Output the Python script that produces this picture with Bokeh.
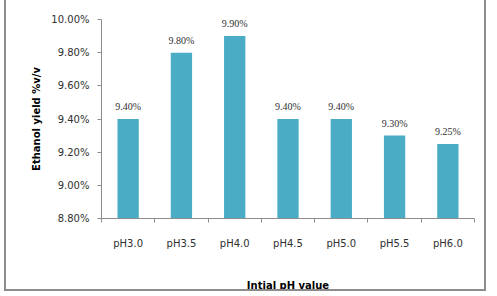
from bokeh.plotting import figure
from bokeh.models import (Range1d, LinearAxis, FixedTicker, PrintfTickFormatter,
                          ColumnDataSource, LabelSet)
from bokeh.embed import file_html
from bokeh.resources import INLINE

# Ethanol yield (% v/v) at each initial pH
categories = ["pH3.0", "pH3.5", "pH4.0", "pH4.5", "pH5.0", "pH5.5", "pH6.0"]
yields = [9.40, 9.80, 9.90, 9.40, 9.40, 9.30, 9.25]
y_ticks = [8.8, 9.0, 9.2, 9.4, 9.6, 9.8, 10.0]

FONT = "DejaVu Sans"
AXIS_COLOR = "#8c8c8c"
TEXT_COLOR = "#303030"
BAR_COLOR = "#4bacc6"

n = len(categories)
centers = [i + 0.5 for i in range(n)]          # slot centres on a 0..n axis
bounds = list(range(n + 1))                     # slot edges
labels = [f"{v:.2f}%" for v in yields]
src = ColumnDataSource(dict(x=centers, val=yields, lab=labels))

p = figure(
    width=482, height=293,
    x_range=Range1d(0, n),
    y_range=Range1d(y_ticks[0], y_ticks[-1]),
    x_axis_location=None, y_axis_location=None,
    output_backend="svg", toolbar_location=None,
    min_border_left=95, min_border_right=14, min_border_top=19, min_border_bottom=71,
    styles={"margin-left": "4px", "margin-top": "-2px",
            "border": f"2px solid {AXIS_COLOR}"},
)
p.outline_line_color = None
p.xgrid.visible = False
p.ygrid.visible = False
p.background_fill_color = "white"
p.border_fill_color = "white"

p.vbar(x="x", top="val", bottom=y_ticks[0], width=0.4, source=src,
       fill_color=BAR_COLOR, line_color=None)

p.add_layout(LabelSet(x="x", y="val", text="lab", source=src,
                      text_align="center", text_baseline="bottom", y_offset=7,
                      text_font=FONT, text_font_size="10px", text_color=TEXT_COLOR))

# y axis
yaxis = LinearAxis(ticker=FixedTicker(ticks=y_ticks),
                   formatter=PrintfTickFormatter(format="%.2f%%"))
yaxis.axis_line_color = AXIS_COLOR
yaxis.major_tick_line_color = AXIS_COLOR
yaxis.major_tick_out = 4
yaxis.major_tick_in = 0
yaxis.minor_tick_line_color = None
yaxis.major_label_standoff = 8
yaxis.major_label_text_font = FONT
yaxis.major_label_text_font_size = "10px"
yaxis.major_label_text_color = TEXT_COLOR
yaxis.axis_label = "Ethanol yield %v/v"
yaxis.axis_label_text_font = FONT
yaxis.axis_label_text_font_size = "10px"
yaxis.axis_label_text_font_style = "bold"
yaxis.axis_label_text_color = "black"
yaxis.axis_label_standoff = 6
p.add_layout(yaxis, "left")

# x axis: names under each slot, tick marks on the slot edges
xaxis = LinearAxis(ticker=FixedTicker(ticks=centers, minor_ticks=bounds),
                   major_label_overrides={c: name for c, name in zip(centers, categories)})
xaxis.axis_line_color = AXIS_COLOR
xaxis.major_tick_line_color = None
xaxis.major_tick_out = 0
xaxis.major_tick_in = 0
xaxis.minor_tick_line_color = AXIS_COLOR
xaxis.minor_tick_out = 4
xaxis.minor_tick_in = 0
xaxis.major_label_standoff = 15
xaxis.major_label_text_font = FONT
xaxis.major_label_text_font_size = "10px"
xaxis.major_label_text_color = TEXT_COLOR
xaxis.axis_label = "Intial pH value"
xaxis.axis_label_text_font = FONT
xaxis.axis_label_text_font_size = "10px"
xaxis.axis_label_text_font_style = "bold"
xaxis.axis_label_text_color = "black"
xaxis.axis_label_standoff = 28
p.add_layout(xaxis, "below")

open("out.html", "w").write(file_html(p, INLINE))
